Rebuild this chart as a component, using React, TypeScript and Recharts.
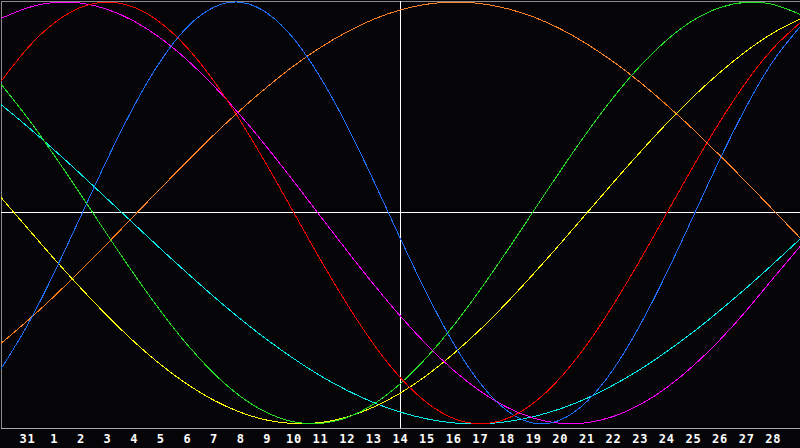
import React from "react";
import { LineChart, Line, XAxis, YAxis, CartesianGrid, ReferenceLine, ReferenceArea } from "recharts";

// Day labels for each position (index 0 .. 30)
const days = ["30", "31", "1", "2", "3", "4", "5", "6", "7", "8", "9", "10", "11", "12", "13", "14", "15", "16", "17", "18", "19", "20", "21", "22", "23", "24", "25", "26", "27", "28", "29"];
const tickIndexes = [1, 2, 3, 4, 5, 6, 7, 8, 9, 10, 11, 12, 13, 14, 15, 16, 17, 18, 19, 20, 21, 22, 23, 24, 25, 26, 27, 28, 29];
const todayIndex = 15;

// Cycle values (-1 .. 1)
const physical = [-0.740, -0.531, -0.283, -0.014, 0.257, 0.508, 0.722, 0.882, 0.976, 0.999, 0.947, 0.825, 0.641, 0.411, 0.150, -0.123, -0.386, -0.621, -0.809, -0.938, -0.997, -0.982, -0.894, -0.740, -0.531, -0.283, -0.014, 0.257, 0.508, 0.722, 0.882];
const emotional = [0.624, 0.782, 0.901, 0.975, 1.0, 0.975, 0.901, 0.782, 0.624, 0.434, 0.223, 0.0, -0.223, -0.434, -0.624, -0.782, -0.901, -0.975, -1.0, -0.975, -0.901, -0.782, -0.624, -0.434, -0.223, 0.0, 0.223, 0.434, 0.624, 0.782, 0.901];
const intellectual = [0.611, 0.450, 0.273, 0.086, -0.105, -0.291, -0.467, -0.626, -0.762, -0.871, -0.948, -0.991, -0.998, -0.970, -0.906, -0.809, -0.683, -0.533, -0.363, -0.180, 0.010, 0.199, 0.381, 0.549, 0.697, 0.820, 0.914, 0.974, 0.999, 0.988, 0.942];
const intuitive = [0.922, 0.973, 0.998, 0.995, 0.965, 0.909, 0.828, 0.724, 0.601, 0.461, 0.309, 0.148, -0.017, -0.181, -0.340, -0.490, -0.627, -0.747, -0.846, -0.922, -0.973, -0.998, -0.995, -0.965, -0.909, -0.828, -0.724, -0.601, -0.461, -0.309, -0.160];
const aesthetic = [0.073, -0.073, -0.218, -0.357, -0.489, -0.611, -0.720, -0.813, -0.889, -0.946, -0.983, -0.999, -0.994, -0.968, -0.920, -0.854, -0.769, -0.667, -0.552, -0.425, -0.288, -0.146, 0.0, 0.146, 0.288, 0.425, 0.552, 0.667, 0.769, 0.854, 0.920];
const awareness = [-0.619, -0.511, -0.395, -0.271, -0.144, -0.013, 0.118, 0.246, 0.371, 0.489, 0.598, 0.698, 0.785, 0.859, 0.919, 0.963, 0.990, 1.0, 0.993, 0.969, 0.929, 0.873, 0.801, 0.716, 0.619, 0.511, 0.395, 0.271, 0.144, 0.013, -0.118];
const spiritual = [0.514, 0.409, 0.298, 0.183, 0.065, -0.053, -0.171, -0.286, -0.398, -0.504, -0.602, -0.692, -0.773, -0.842, -0.900, -0.945, -0.977, -0.996, -1.0, -0.990, -0.966, -0.929, -0.879, -0.816, -0.742, -0.657, -0.564, -0.462, -0.354, -0.241, -0.124];

const seriesList = [
  { key: "awareness", values: awareness, color: "#ff8020" },
  { key: "spiritual", values: spiritual, color: "#00f0f0" },
  { key: "aesthetic", values: aesthetic, color: "#ffff00" },
  { key: "intellectual", values: intellectual, color: "#22e022" },
  { key: "intuitive", values: intuitive, color: "#ff00ff" },
  { key: "physical", values: physical, color: "#1e6eff" },
  { key: "emotional", values: emotional, color: "#ff0000" },
];

const data = days.map((d, i) => {
  const row: Record<string, number | string> = { i, day: d };
  seriesList.forEach((s) => {
    row[s.key] = s.values[i];
  });
  return row;
});

const Y_MIN = -1.02;
const Y_MAX = 1.005;

export default function App() {
  return (
    <div style={{ position: "fixed", left: 0, top: 0, width: 800, height: 448, background: "#050508" }}>
      <LineChart width={800} height={448} data={data} margin={{ top: 1, right: 0, bottom: 0, left: 1 }}>
        <ReferenceArea x1={0} x2={30} y1={Y_MIN} y2={Y_MAX} fill="#050508" fillOpacity={1} stroke="#8c8c8c" strokeWidth={1} shapeRendering="crispEdges" />
        <CartesianGrid horizontal={false} vertical={true} stroke="#3c3c3c" strokeWidth={1} shapeRendering="crispEdges" />
        <XAxis
          dataKey="i"
          type="number"
          domain={[0, 30]}
          ticks={tickIndexes}
          tickFormatter={(v: number) => days[v]}
          interval={0}
          height={20}
          tickLine={false}
          tickSize={4}
          axisLine={{ stroke: "#a8a8a8", strokeWidth: 1, shapeRendering: "crispEdges" }}
          tick={{ fill: "#ffffff", fontSize: 12, fontWeight: "bold", fontFamily: "DejaVu Sans Mono", letterSpacing: 0.8 }}
        />
        <YAxis hide domain={[Y_MIN, Y_MAX]} type="number" />
        <ReferenceLine y={0} stroke="#ffffff" strokeWidth={1} shapeRendering="crispEdges" />
        <ReferenceLine x={todayIndex} stroke="#ffffff" strokeWidth={1} shapeRendering="crispEdges" />
        {seriesList.map((s) => (
          <Line
            key={s.key}
            dataKey={s.key}
            type="natural"
            stroke={s.color}
            strokeWidth={1}
            dot={false}
            activeDot={false}
            isAnimationActive={false}
            shapeRendering="crispEdges"
          />
        ))}
      </LineChart>
    </div>
  );
}
